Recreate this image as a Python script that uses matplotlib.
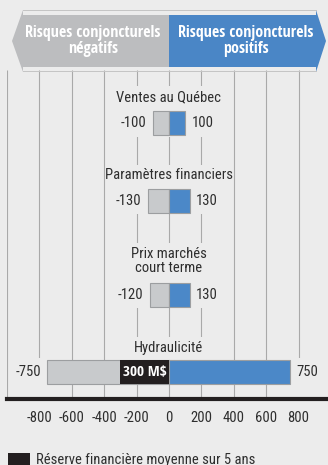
import matplotlib
matplotlib.use("Agg")
import matplotlib.pyplot as plt
from matplotlib.patches import Polygon, Rectangle

# ---- data -------------------------------------------------------------
categories = ["Ventes au Québec", "Paramètres financiers",
              "Prix marchés\ncourt terme", "Hydraulicité"]
negative_risk = [-100, -130, -120, -750]
positive_risk = [100, 130, 130, 750]
reserve_value = -300          # average financial reserve, M$
reserve_label = "300 M$"
tick_values = [-800, -600, -400, -200, 0, 200, 400, 600, 800]
grid_values = [-1000, -800, -600, -400, -200, 0, 200, 400, 600, 800]
header_left = "Risques conjoncturels\nnégatifs"
header_right = "Risques conjoncturels\npositifs"
legend_label = "Réserve financière moyenne sur 5 ans"

# ---- style ------------------------------------------------------------
BG = "#ececec"
GREY_BAR = "#c8cacc"
BLUE_BAR = "#4b88c8"
GREY_HEAD = "#bcbdbf"
BLUE_HEAD = "#4a86c6"
EDGE = "#9c9ea0"
GRID = "#a9a9a9"
TEXT = "#2e2e2e"
DARK = "#231f20"
BODY_FONT = "Roboto Condensed"
HEAD_FONT = "Open Sans Condensed"

W, H = 328, 465
fig = plt.figure(figsize=(W / 100, H / 100), dpi=100, facecolor=BG)

# main axes: y in pixel-like units, top of grid at 70, axis line at 398.5
y_top, y_bot = 70, 398.5
ax = fig.add_axes([7 / W, (H - y_bot) / H, (W - 7) / W, (y_bot - y_top) / H])
ax.set_facecolor(BG)
ax.set_xlim(-1000, 982)
ax.set_ylim(y_bot, y_top)

bar_y = [123, 201, 295, 372]
title_y = [97, 175, 261, 348]
mask_spans = [(86, 137), (165, 214), (243, 308), (337, 385)]
bar_h = 24

ax.vlines(grid_values, y_top, y_bot, color=GRID, lw=0.8, zorder=1)

# background patches that break the central grid lines around each block
for (m0, m1) in mask_spans:
    ax.add_patch(Rectangle((-330, m0), 660, m1 - m0, facecolor=BG,
                           edgecolor="none", zorder=1.5))
ax.add_patch(Rectangle((-990, 358), 235, 39, facecolor=BG, edgecolor="none", zorder=1.5))
ax.add_patch(Rectangle((755, 358), 220, 39, facecolor=BG, edgecolor="none", zorder=1.5))

ax.barh(bar_y, negative_risk, height=bar_h, color=GREY_BAR, edgecolor=EDGE,
        lw=0.8, zorder=3)
ax.barh(bar_y, positive_risk, height=bar_h, color=BLUE_BAR, edgecolor=EDGE,
        lw=0.8, zorder=3)
ax.barh(bar_y[-1], reserve_value, height=bar_h, color=DARK, edgecolor="none",
        zorder=4)
ax.text(reserve_value / 2, bar_y[-1], reserve_label, ha="center", va="center",
        color="white", fontsize=11, fontweight="bold", family=HEAD_FONT, zorder=5)

for cat, ty, by, neg, pos in zip(categories, title_y, bar_y, negative_risk, positive_risk):
    ax.text(0, ty, cat, ha="center", va="center", fontsize=10.5, color=TEXT,
            family=BODY_FONT, linespacing=1.05, zorder=5)
    ax.annotate(f"{neg}", (neg, by), xytext=(-4.5, 0), textcoords="offset points",
                ha="right", va="center", fontsize=10.5, color=TEXT,
                family=BODY_FONT, zorder=5)
    ax.annotate(f"{pos}", (pos, by), xytext=(4.5, 0), textcoords="offset points",
                ha="left", va="center", fontsize=10.5, color=TEXT,
                family=BODY_FONT, zorder=5)

for side in ("top", "left", "right"):
    ax.spines[side].set_visible(False)
ax.spines["bottom"].set_color(DARK)
ax.spines["bottom"].set_linewidth(3)
ax.set_yticks([])
ax.set_xticks(tick_values)
ax.set_xticklabels([str(v) for v in tick_values], family=BODY_FONT,
                   fontsize=10.5, color=TEXT)
ax.tick_params(axis="x", length=0, pad=9)

# overlay in figure pixels for the header arrow and the legend
ov = fig.add_axes([0, 0, 1, 1], facecolor="none")
ov.set_xlim(0, W)
ov.set_ylim(H, 0)
ov.axis("off")

mid = 169
left_arrow = [(mid, 15), (23, 15), (23, 10), (12, 41), (23, 72), (23, 67), (mid, 67)]
right_arrow = [(mid, 15), (316, 15), (316, 10), (326, 41), (316, 72), (316, 67), (mid, 67)]
ov.add_patch(Polygon(left_arrow, closed=True, facecolor=GREY_HEAD, edgecolor="none"))
ov.add_patch(Polygon(right_arrow, closed=True, facecolor=BLUE_HEAD, edgecolor="none"))
ov.plot([23, 316], [10.5, 10.5], color="#c4c4c4", lw=0.7)
ov.plot([23, 316], [71.5, 71.5], color="#c4c4c4", lw=0.7)
ov.text(93, 41, header_left, ha="center", va="center", color="white",
        fontsize=11.5, fontweight="bold", family=HEAD_FONT, linespacing=1.05)
ov.text(246, 41, header_right, ha="center", va="center", color="white",
        fontsize=11.5, fontweight="bold", family=HEAD_FONT, linespacing=1.05)

ov.add_patch(Rectangle((8, 453), 22, 14, facecolor=DARK, edgecolor="none"))
ov.text(36, 464, legend_label, ha="left", va="baseline", fontsize=10.5,
        color=TEXT, family=BODY_FONT)

fig.savefig("out.png", dpi=100, facecolor=BG)
